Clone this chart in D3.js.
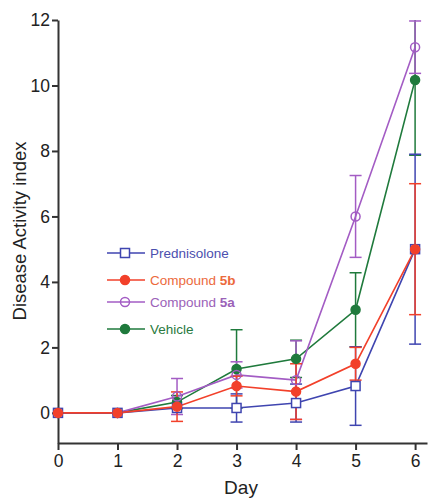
<!DOCTYPE html>
<html>
<head>
<meta charset="utf-8">
<script src="https://cdn.jsdelivr.net/npm/d3@7"></script>
<style>
  body { margin: 0; background: #fff; }
  svg { display: block; font-family: "Liberation Sans", Arial, sans-serif; }
</style>
</head>
<body>
<div id="chart"></div>
<script>
const days = [0, 1, 2, 3, 4, 5, 6];
const yTicks = [0, 2, 4, 6, 8, 10, 12];

const prednisolone = [0, 0, 0.15, 0.15, 0.3, 0.82, 5.0];
const prednisoloneErr = [0, 0, 0, 0.43, 0.58, 1.2, 2.9];
const compound5b = [0, 0, 0.19, 0.82, 0.65, 1.5, 5.0];
const compound5bErr = [0, 0, 0.45, 0.3, 0.85, 0.5, 2.0];
const compound5a = [0, 0, 0.5, 1.16, 1.0, 6.0, 11.17];
const compound5aErr = [0, 0, 0.55, 0.4, 1.2, 1.25, 0.8];
const vehicle = [0, 0, 0.33, 1.34, 1.65, 3.15, 10.17];
const vehicleErr = [0, 0, 0.2, 1.2, 0.57, 1.13, 2.3];

const series = [
  { name: 'Vehicle', bold: '', values: vehicle, err: vehicleErr, color: '#1f7a3c', text: '#2a7a40', shape: 'circle', fill: true },
  { name: 'Compound ', bold: '5a', values: compound5a, err: compound5aErr, color: '#a35cc4', text: '#9b62b8', shape: 'circle', fill: false },
  { name: 'Prednisolone', bold: '', values: prednisolone, err: prednisoloneErr, color: '#3f45b0', text: '#4b4fae', shape: 'square', fill: false },
  { name: 'Compound ', bold: '5b', values: compound5b, err: compound5bErr, color: '#f2402a', text: '#ec6a3c', shape: 'circle', fill: true }
];
const legendOrder = [2, 3, 1, 0];

const W = 428, H = 498;
const svg = d3.select('#chart').append('svg')
  .attr('width', W).attr('height', H);

const x = d3.scaleLinear().domain([0, 6.2]).range([58, 427]);
const y = d3.scaleLinear().domain([-0.92, 12]).range([443, 20]);

const axisColor = '#333';
const tickFont = '17.5px';

// y axis
const yAxis = svg.append('g')
  .attr('transform', 'translate(58,0)')
  .call(d3.axisLeft(y).tickValues(yTicks).tickFormat(d3.format('d')).tickSize(6).tickSizeOuter(0).tickPadding(2));
yAxis.select('.domain').attr('stroke', axisColor).attr('stroke-width', 2);
yAxis.selectAll('.tick line').attr('stroke', axisColor).attr('stroke-width', 2);
yAxis.selectAll('.tick text').attr('fill', '#222').style('font-size', tickFont).style('font-family', '"Liberation Sans", Arial, sans-serif');

// x axis
const xAxis = svg.append('g')
  .attr('transform', 'translate(0,443)')
  .call(d3.axisBottom(x).tickValues(days).tickFormat(d3.format('d')).tickSize(7).tickSizeOuter(0).tickPadding(5));
xAxis.select('.domain').attr('stroke', axisColor).attr('stroke-width', 2);
xAxis.selectAll('.tick line').attr('stroke', axisColor).attr('stroke-width', 2);
xAxis.selectAll('.tick text').attr('fill', '#222').style('font-size', tickFont).style('font-family', '"Liberation Sans", Arial, sans-serif');

// titles
svg.append('text')
  .attr('x', 241).attr('y', 494)
  .attr('text-anchor', 'middle')
  .attr('fill', '#222')
  .style('font-size', '19px')
  .text('Day');

svg.append('text')
  .attr('transform', 'translate(26,231) rotate(-90)')
  .attr('text-anchor', 'middle')
  .attr('fill', '#222')
  .style('font-size', '18.5px')
  .text('Disease Activity index');

const clipTop = 12;
const line = d3.line().x((d, i) => x(days[i])).y(d => y(d));

series.forEach(s => {
  const g = svg.append('g');
  // error bars
  s.values.forEach((v, i) => {
    const e = s.err[i];
    if (!e) return;
    const hi = Math.min(v + e, clipTop), lo = v - e;
    g.append('line')
      .attr('x1', x(days[i])).attr('x2', x(days[i]))
      .attr('y1', y(hi)).attr('y2', y(lo))
      .attr('stroke', s.color).attr('stroke-width', 1.5);
    [hi, lo].forEach(t => {
      if (t === clipTop && v + e > clipTop) return;
      g.append('line')
        .attr('x1', x(days[i]) - 6).attr('x2', x(days[i]) + 6)
        .attr('y1', y(t)).attr('y2', y(t))
        .attr('stroke', s.color).attr('stroke-width', 1.5);
    });
  });
  g.append('path')
    .datum(s.values)
    .attr('d', line)
    .attr('fill', 'none')
    .attr('stroke', s.color)
    .attr('stroke-width', 1.6);
});

function drawMarker(g, s, cx, cy) {
  if (s.shape === 'square') {
    g.append('rect')
      .attr('x', cx - 4.5).attr('y', cy - 4.5)
      .attr('width', 9).attr('height', 9)
      .attr('fill', s.fill ? s.color : '#fff')
      .attr('stroke', s.color).attr('stroke-width', 1.5);
  } else {
    g.append('circle')
      .attr('cx', cx).attr('cy', cy)
      .attr('r', 4.5)
      .attr('fill', s.fill ? s.color : '#fff')
      .attr('fill-opacity', s.fill ? 1 : 0)
      .attr('stroke', s.color).attr('stroke-width', 1.5);
  }
}

series.forEach(s => {
  const g = svg.append('g');
  s.values.forEach((v, i) => drawMarker(g, s, x(days[i]), y(v)));
});

// legend
const legend = svg.append('g');
legendOrder.forEach((k, j) => {
  const s = series[k];
  const ly = [253, 280, 302, 329][j];
  legend.append('line')
    .attr('x1', 107).attr('x2', 145)
    .attr('y1', ly).attr('y2', ly)
    .attr('stroke', s.color).attr('stroke-width', 1.6);
  drawMarker(legend, s, 125, ly);
  const t = legend.append('text')
    .attr('x', 150).attr('y', ly + 5)
    .attr('fill', s.text)
    .style('font-size', '13.5px');
  t.append('tspan').text(s.name);
  if (s.bold) t.append('tspan').style('font-weight', 'bold').text(s.bold);
});
</script>
</body>
</html>
